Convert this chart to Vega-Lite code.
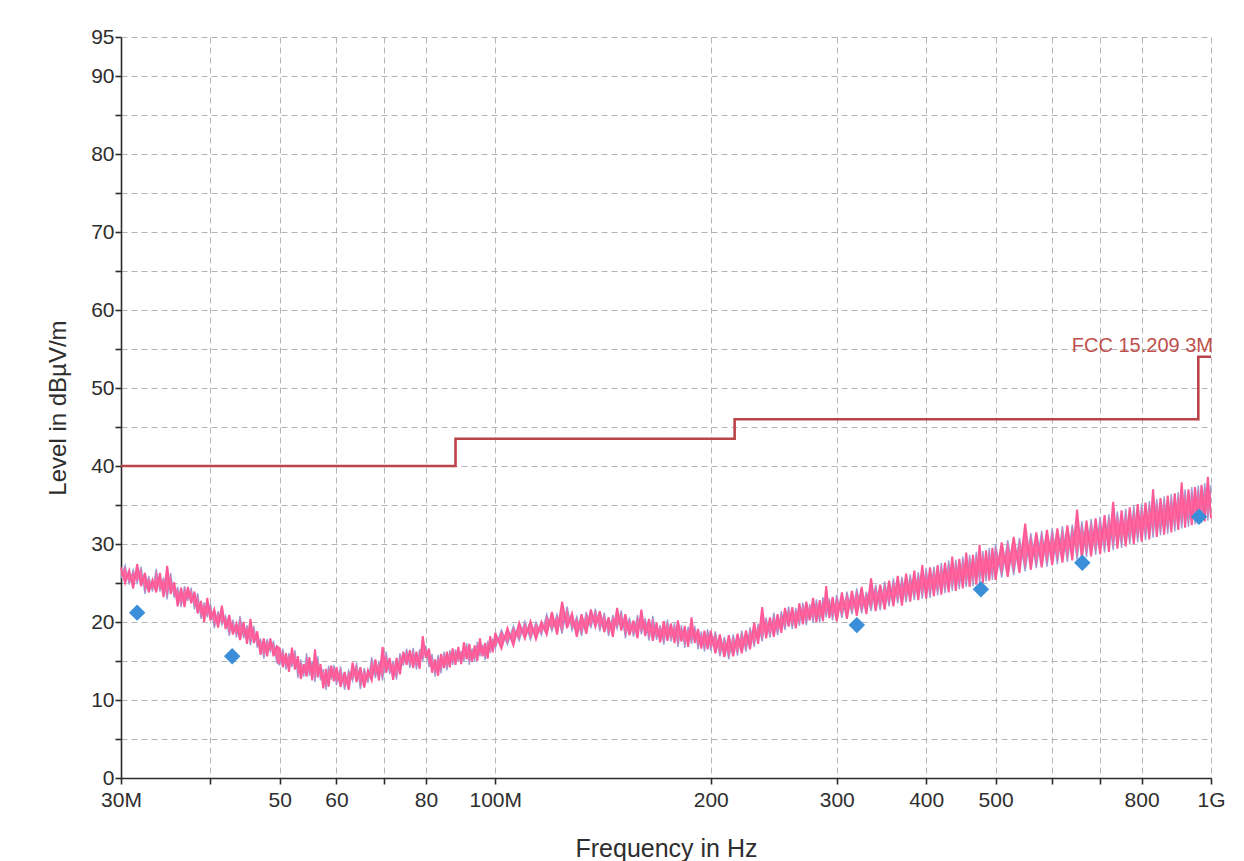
{
  "$schema": "https://vega.github.io/schema/vega-lite/v6.json",
  "autosize": {"type": "none"},
  "width": 1090,
  "height": 741,
  "padding": {"left": 121, "top": 37, "right": 33, "bottom": 83},
  "background": "#ffffff",
  "config": {
    "font": "Liberation Sans",
    "view": {"stroke": null},
    "axis": {
      "domainColor": "#2b2b2b",
      "domainWidth": 1.6,
      "tickColor": "#2b2b2b",
      "tickWidth": 1.6,
      "tickSize": 6,
      "labelColor": "#2e2e2e",
      "labelFont": "Liberation Sans",
      "labelFontSize": 21,
      "titleFont": "Liberation Sans",
      "titleFontSize": 24,
      "titleFontWeight": "normal",
      "titleColor": "#2e2e2e",
      "gridColor": "#b4b4b4",
      "gridDash": [6, 4],
      "gridWidth": 1,
      "labelOverlap": false
    }
  },
  "datasets": {
    "trace": [
      {"f":30.0,"p":27.0,"b":25.6},{"f":30.4,"p":25.0,"b":27.3},{"f":30.8,"p":26.6,"b":24.8},{"f":31.2,"p":24.3,"b":26.7},{"f":31.6,"p":27.4,"b":25.0},
      {"f":32.0,"p":24.6,"b":27.1},{"f":32.4,"p":26.3,"b":23.6},{"f":32.8,"p":23.8,"b":25.9},{"f":33.2,"p":25.4,"b":23.9},{"f":33.6,"p":23.8,"b":26.8},
      {"f":34.0,"p":26.3,"b":23.9},{"f":34.4,"p":23.2,"b":25.7},{"f":34.8,"p":27.2,"b":22.9},{"f":35.2,"p":23.6,"b":26.3},{"f":35.6,"p":25.1,"b":23.1},
      {"f":36.0,"p":22.0,"b":24.5},{"f":36.4,"p":24.4,"b":21.9},{"f":36.8,"p":21.9,"b":24.6},{"f":37.2,"p":24.5,"b":22.7},{"f":37.6,"p":22.4,"b":24.4},
      {"f":38.0,"p":23.9,"b":21.6},{"f":38.4,"p":21.1,"b":23.7},{"f":38.8,"p":22.7,"b":20.4},{"f":39.2,"p":20.0,"b":22.5},{"f":39.6,"p":23.1,"b":20.6},
      {"f":40.0,"p":20.2,"b":22.4},{"f":40.5,"p":21.6,"b":19.2},{"f":41.0,"p":19.3,"b":21.4},{"f":41.5,"p":22.1,"b":19.6},{"f":42.0,"p":19.1,"b":20.8},
      {"f":42.5,"p":20.9,"b":18.2},{"f":43.0,"p":18.4,"b":20.3},{"f":43.5,"p":19.8,"b":18.0},{"f":44.0,"p":17.7,"b":20.8},{"f":44.5,"p":20.0,"b":17.9},
      {"f":45.0,"p":17.2,"b":19.6},{"f":45.5,"p":20.4,"b":17.0},{"f":46.0,"p":17.3,"b":19.5},{"f":46.5,"p":18.8,"b":16.7},{"f":47.0,"p":15.8,"b":17.9},
      {"f":47.5,"p":17.9,"b":15.3},{"f":48.0,"p":15.6,"b":17.8},{"f":48.5,"p":17.9,"b":16.2},{"f":49.0,"p":15.6,"b":17.6},{"f":49.5,"p":16.9,"b":14.8},
      {"f":50.0,"p":16.6,"b":14.5},{"f":50.5,"p":14.2,"b":16.6},{"f":51.0,"p":16.0,"b":13.9},{"f":51.5,"p":13.6,"b":16.0},{"f":52.0,"p":16.7,"b":14.2},
      {"f":52.5,"p":13.9,"b":16.4},{"f":53.0,"p":15.6,"b":12.8},{"f":53.5,"p":12.7,"b":15.2},{"f":54.0,"p":14.6,"b":13.0},{"f":54.5,"p":13.0,"b":16.0},
      {"f":55.0,"p":15.5,"b":13.1},{"f":55.5,"p":12.5,"b":15.0},{"f":56.0,"p":16.5,"b":12.3},{"f":56.5,"p":12.9,"b":15.6},{"f":57.0,"p":14.6,"b":12.5},
      {"f":57.5,"p":11.5,"b":14.0},{"f":58.0,"p":14.0,"b":11.3},{"f":58.5,"p":11.7,"b":14.4},{"f":59.0,"p":14.4,"b":12.6},{"f":59.5,"p":12.4,"b":14.5},
      {"f":60.0,"p":14.2,"b":11.9},{"f":60.8,"p":11.7,"b":14.3},{"f":61.6,"p":13.6,"b":11.3},{"f":62.4,"p":11.3,"b":13.8},{"f":63.2,"p":14.8,"b":12.4},
      {"f":64.0,"p":12.3,"b":14.8},{"f":64.8,"p":14.2,"b":11.4},{"f":65.6,"p":11.6,"b":14.1},{"f":66.4,"p":13.8,"b":12.2},{"f":67.2,"p":12.5,"b":15.5},
      {"f":68.0,"p":15.2,"b":12.8},{"f":68.8,"p":12.5,"b":15.0},{"f":69.6,"p":16.8,"b":12.5},{"f":70.4,"p":13.5,"b":16.2},{"f":71.2,"p":15.4,"b":13.3},
      {"f":72.0,"p":12.6,"b":15.0},{"f":72.8,"p":15.4,"b":12.6},{"f":73.6,"p":13.3,"b":16.0},{"f":74.4,"p":16.2,"b":14.4},{"f":75.2,"p":14.5,"b":16.6},
      {"f":76.0,"p":16.4,"b":14.1},{"f":76.8,"p":14.1,"b":16.7},{"f":77.6,"p":16.2,"b":13.9},{"f":78.4,"p":14.0,"b":16.5},{"f":79.2,"p":18.2,"b":15.0},
      {"f":80.0,"p":15.4,"b":17.0},{"f":80.8,"p":16.6,"b":14.2},{"f":81.6,"p":13.5,"b":15.9},{"f":82.4,"p":15.2,"b":13.0},{"f":83.2,"p":13.1,"b":15.8},
      {"f":84.0,"p":15.9,"b":13.4},{"f":84.8,"p":14.1,"b":16.2},{"f":85.6,"p":16.2,"b":13.8},{"f":86.4,"p":14.2,"b":16.4},{"f":87.2,"p":16.6,"b":14.5},
      {"f":88.0,"p":14.5,"b":16.5},{"f":88.8,"p":16.8,"b":14.9},{"f":89.6,"p":14.6,"b":16.3},{"f":90.4,"p":17.4,"b":14.9},{"f":91.2,"p":15.2,"b":17.3},
      {"f":92.0,"p":17.2,"b":14.5},{"f":92.8,"p":14.9,"b":16.6},{"f":93.6,"p":17.0,"b":15.0},{"f":94.4,"p":15.0,"b":17.5},{"f":95.2,"p":17.9,"b":15.6},
      {"f":96.0,"p":15.6,"b":17.1},{"f":96.8,"p":17.3,"b":15.1},{"f":97.6,"p":15.3,"b":17.6},{"f":98.4,"p":18.2,"b":16.0},{"f":99.2,"p":16.1,"b":17.9},
      {"f":100,"p":18.6,"b":16.6},{"f":102,"p":16.6,"b":19.0},{"f":104,"p":19.2,"b":17.1},{"f":106,"p":17.0,"b":19.5},{"f":108,"p":19.9,"b":17.6},
      {"f":110,"p":17.9,"b":20.1},{"f":112,"p":20.1,"b":17.7},{"f":114,"p":17.8,"b":20.0},{"f":116,"p":20.0,"b":18.3},{"f":118,"p":18.4,"b":21.0},
      {"f":120,"p":21.3,"b":18.8},{"f":122,"p":18.4,"b":21.0},{"f":124,"p":22.6,"b":18.5},{"f":126,"p":19.2,"b":22.0},{"f":128,"p":21.1,"b":18.9},
      {"f":130,"p":18.1,"b":20.7},{"f":132,"p":21.0,"b":18.2},{"f":134,"p":18.5,"b":21.3},{"f":136,"p":21.6,"b":19.2},{"f":138,"p":19.4,"b":21.7},
      {"f":140,"p":21.4,"b":18.8},{"f":142,"p":18.7,"b":21.2},{"f":144,"p":20.6,"b":18.2},{"f":146,"p":18.1,"b":20.9},{"f":148,"p":21.8,"b":19.1},
      {"f":150,"p":18.9,"b":21.5},{"f":152,"p":21.0,"b":17.9},{"f":154,"p":18.3,"b":20.6},{"f":156,"p":20.2,"b":18.1},{"f":158,"p":17.9,"b":20.9},
      {"f":160,"p":21.6,"b":18.4},{"f":162,"p":18.2,"b":20.5},{"f":164,"p":20.4,"b":17.6},{"f":166,"p":17.6,"b":20.8},{"f":168,"p":19.9,"b":17.7},
      {"f":170,"p":17.4,"b":19.6},{"f":172,"p":20.1,"b":17.1},{"f":174,"p":17.6,"b":20.3},{"f":176,"p":19.8,"b":17.5},{"f":178,"p":17.3,"b":19.9},
      {"f":180,"p":20.2,"b":16.8},{"f":182,"p":17.5,"b":19.6},{"f":184,"p":19.5,"b":16.7},{"f":186,"p":16.8,"b":19.4},{"f":188,"p":20.6,"b":17.2},
      {"f":190,"p":17.3,"b":19.5},{"f":192,"p":19.1,"b":16.5},{"f":194,"p":16.6,"b":18.8},{"f":196,"p":18.9,"b":16.2},{"f":198,"p":16.5,"b":19.1},
      {"f":200,"p":18.9,"b":16.3},{"f":203,"p":16.0,"b":18.8},{"f":206,"p":18.4,"b":15.6},{"f":209,"p":15.5,"b":18.1},{"f":212,"p":18.3,"b":15.2},
      {"f":215,"p":15.6,"b":18.4},{"f":218,"p":18.5,"b":15.7},{"f":221,"p":16.0,"b":18.9},{"f":224,"p":18.9,"b":16.2},{"f":227,"p":16.5,"b":19.3},
      {"f":230,"p":19.9,"b":16.8},{"f":233,"p":17.2,"b":19.8},{"f":236,"p":21.9,"b":17.5},{"f":239,"p":17.9,"b":20.6},{"f":242,"p":20.6,"b":18.0},
      {"f":245,"p":18.1,"b":21.2},{"f":248,"p":21.0,"b":18.3},{"f":251,"p":18.6,"b":21.4},{"f":254,"p":21.8,"b":19.0},{"f":257,"p":19.4,"b":22.0},
      {"f":260,"p":21.9,"b":19.1},{"f":263,"p":19.2,"b":21.8},{"f":266,"p":22.4,"b":19.5},{"f":269,"p":19.7,"b":22.5},{"f":272,"p":22.6,"b":19.6},
      {"f":275,"p":20.2,"b":22.3},{"f":278,"p":23.1,"b":19.9},{"f":281,"p":20.0,"b":22.9},{"f":284,"p":22.8,"b":19.9},{"f":287,"p":20.1,"b":23.2},
      {"f":290,"p":24.6,"b":20.6},{"f":293,"p":20.5,"b":23.0},{"f":296,"p":23.2,"b":20.2},
      {"f":300,"p":20.1,"b":23.5},{"f":305,"p":23.8,"b":20.5},{"f":310,"p":20.4,"b":23.9},{"f":315,"p":24.0,"b":21.0},{"f":320,"p":20.8,"b":24.3},
      {"f":325,"p":24.5,"b":21.1},{"f":330,"p":21.0,"b":23.9},{"f":335,"p":25.6,"b":21.4},{"f":340,"p":21.4,"b":24.8},{"f":345,"p":24.8,"b":21.5},
      {"f":350,"p":21.6,"b":25.2},{"f":355,"p":25.3,"b":22.0},{"f":360,"p":22.0,"b":25.6},{"f":365,"p":25.9,"b":22.4},{"f":370,"p":22.1,"b":25.8},
      {"f":375,"p":26.2,"b":22.5},{"f":380,"p":22.6,"b":26.1},{"f":385,"p":26.6,"b":22.8},{"f":390,"p":22.8,"b":26.4},{"f":395,"p":27.3,"b":23.0},
      {"f":400,"p":23.0,"b":26.9},{"f":405,"p":27.0,"b":23.1},{"f":410,"p":23.3,"b":27.1},{"f":415,"p":27.3,"b":23.4},{"f":420,"p":23.5,"b":27.6},
      {"f":425,"p":27.6,"b":23.7},{"f":430,"p":23.8,"b":27.9},{"f":435,"p":28.4,"b":24.0},{"f":440,"p":24.0,"b":28.0},{"f":445,"p":28.1,"b":24.2},
      {"f":450,"p":24.3,"b":28.4},{"f":455,"p":28.9,"b":24.5},{"f":460,"p":24.5,"b":28.6},{"f":465,"p":28.6,"b":24.6},{"f":470,"p":24.8,"b":29.0},
      {"f":475,"p":29.9,"b":25.0},{"f":480,"p":25.0,"b":29.1},{"f":485,"p":29.2,"b":25.2},{"f":490,"p":25.3,"b":29.5},{"f":495,"p":29.5,"b":25.4},
      {"f":500,"p":25.4,"b":30.0},{"f":510,"p":30.2,"b":25.7},{"f":520,"p":25.8,"b":30.5},{"f":530,"p":30.9,"b":26.0},{"f":540,"p":26.3,"b":30.8},
      {"f":550,"p":32.6,"b":26.5},{"f":560,"p":26.7,"b":31.4},{"f":570,"p":31.5,"b":26.9},{"f":580,"p":27.0,"b":31.7},{"f":590,"p":31.8,"b":27.1},
      {"f":600,"p":27.3,"b":32.0},{"f":610,"p":32.0,"b":27.4},{"f":620,"p":27.6,"b":32.3},{"f":630,"p":32.4,"b":27.7},{"f":640,"p":27.9,"b":32.5},
      {"f":650,"p":34.4,"b":28.0},{"f":660,"p":28.1,"b":32.9},{"f":670,"p":33.0,"b":28.3},{"f":680,"p":28.4,"b":33.2},{"f":690,"p":33.3,"b":28.6},
      {"f":700,"p":28.7,"b":33.5},{"f":710,"p":33.7,"b":28.9},{"f":720,"p":29.0,"b":33.8},{"f":730,"p":35.4,"b":29.2},{"f":740,"p":29.4,"b":34.2},
      {"f":750,"p":34.3,"b":29.5},{"f":760,"p":29.7,"b":34.5},{"f":770,"p":34.7,"b":29.9},{"f":780,"p":30.0,"b":34.9},{"f":790,"p":35.1,"b":30.2},
      {"f":800,"p":30.3,"b":35.2},{"f":810,"p":35.3,"b":30.5},{"f":820,"p":30.6,"b":35.5},{"f":830,"p":37.0,"b":30.8},{"f":840,"p":30.9,"b":35.8},
      {"f":850,"p":35.9,"b":31.1},{"f":860,"p":31.2,"b":36.1},{"f":870,"p":36.2,"b":31.3},{"f":880,"p":31.5,"b":36.4},{"f":890,"p":36.5,"b":31.6},
      {"f":900,"p":31.8,"b":36.7},{"f":910,"p":37.9,"b":32.0},{"f":920,"p":32.1,"b":37.0},{"f":930,"p":37.0,"b":32.2},{"f":940,"p":32.4,"b":37.3},
      {"f":950,"p":37.3,"b":32.5},{"f":960,"p":32.6,"b":37.5},{"f":970,"p":37.6,"b":32.7},{"f":980,"p":32.9,"b":37.8},{"f":990,"p":38.6,"b":33.0},
      {"f":1000,"p":33.3,"b":37.6}
    ],
    "limit": [
      {"f": 30, "lvl": 40},
      {"f": 88, "lvl": 43.5},
      {"f": 216, "lvl": 46},
      {"f": 960, "lvl": 54},
      {"f": 1000, "lvl": 54}
    ],
    "limitName": [
      {"f": 1000, "lvl": 54, "name": "FCC 15.209 3M"}
    ],
    "peaks": [
      {"f": 31.6, "lvl": 21.2},
      {"f": 42.9, "lvl": 15.6},
      {"f": 320, "lvl": 19.6},
      {"f": 477, "lvl": 24.2},
      {"f": 661, "lvl": 27.6},
      {"f": 962, "lvl": 33.5}
    ]
  },
  "layer": [
    {
      "data": {"name": "limit"},
      "mark": {"type": "line", "interpolate": "step-after", "color": "#bb434a", "strokeWidth": 2.6, "clip": true},
      "encoding": {
        "x": {
          "field": "f",
          "type": "quantitative",
          "scale": {"type": "log", "domain": [30, 1000], "nice": false},
          "axis": {
            "title": "Frequency in Hz",
            "values": [30, 40, 50, 60, 70, 80, 100, 200, 300, 400, 500, 600, 700, 800, 1000],
            "tickCount": 60,
            "labelExpr": "datum.value == 30 ? '30M' : datum.value == 100 ? '100M' : datum.value == 1000 ? '1G' : indexof([40, 70, 600, 700], datum.value) >= 0 ? '' : format(datum.value, 'd')",
            "labelFlush": false,
            "labelPadding": 5,
            "titlePadding": 26,
            "titleFontSize": 25,
            "grid": true
          }
        },
        "y": {
          "field": "lvl",
          "type": "quantitative",
          "scale": {"domain": [0, 95], "nice": false, "zero": true},
          "axis": {
            "title": "Level in dBµV/m",
            "values": [0, 5, 10, 15, 20, 25, 30, 35, 40, 45, 50, 55, 60, 65, 70, 75, 80, 85, 90, 95],
            "tickCount": 60,
            "labelExpr": "(datum.value % 10 == 0 || datum.value == 95) ? datum.label : ''",
            "labelPadding": 1,
            "titlePadding": 20,
            "grid": true
          }
        }
      }
    },
    {
      "data": {"name": "trace"},
      "mark": {"type": "line", "color": "#8fb0e2", "strokeWidth": 1.4},
      "encoding": {
        "x": {"field": "f", "type": "quantitative"},
        "y": {"field": "b", "type": "quantitative"}
      }
    },
    {
      "data": {"name": "trace"},
      "mark": {"type": "area", "color": "#ff5a98", "opacity": 0.9},
      "encoding": {
        "x": {"field": "f", "type": "quantitative"},
        "y": {"field": "p", "type": "quantitative"},
        "y2": {"field": "b"}
      }
    },
    {
      "data": {"name": "trace"},
      "mark": {"type": "line", "color": "#ff5a98", "strokeWidth": 2},
      "encoding": {
        "x": {"field": "f", "type": "quantitative"},
        "y": {"field": "p", "type": "quantitative"}
      }
    },
    {
      "data": {"name": "peaks"},
      "mark": {"type": "point", "shape": "diamond", "filled": true, "size": 270, "color": "#3a8fd8", "opacity": 1},
      "encoding": {
        "x": {"field": "f", "type": "quantitative"},
        "y": {"field": "lvl", "type": "quantitative"}
      }
    },
    {
      "data": {"name": "limitName"},
      "mark": {"type": "text", "align": "right", "baseline": "alphabetic", "dx": 2, "dy": -5, "fontSize": 20, "color": "#c0504d", "font": "Liberation Sans"},
      "encoding": {
        "x": {"field": "f", "type": "quantitative"},
        "y": {"field": "lvl", "type": "quantitative"},
        "text": {"field": "name"}
      }
    }
  ]
}
